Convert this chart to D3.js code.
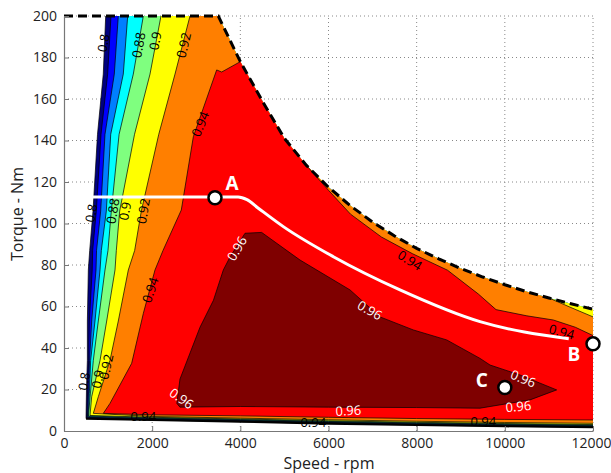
<!DOCTYPE html>
<html><head><meta charset="utf-8">
<script src="https://cdn.jsdelivr.net/npm/d3@7"></script>
<style>
html,body{margin:0;padding:0;background:#fff;}
svg{display:block;font-family:"Open Sans",sans-serif;}
</style></head>
<body><svg id="c" width="611" height="473"></svg>
<script>
// ---------- data ----------
const speedTicks = [0,2000,4000,6000,8000,10000,12000];
const torqueTicks = [0,20,40,60,80,100,120,140,160,180,200];
const levels = [0.80,0.82,0.84,0.86,0.88,0.90,0.92,0.94,0.96];
const levelColors = ["#00007f","#0000ff","#007fff","#00ffff","#7fff7f","#ffff00","#ff7f00","#ff0000","#7f0000"];

// torque-speed envelope [rpm, Nm]
const envelope = [[0,200],[3500,200],[4000,178],[4500,159],[5000,141],[5500,128],[6000,117.5],[6500,108.5],[7000,100.7],[7500,94],[8000,88],[8500,83],[9000,78.3],[9500,74.2],[10000,70.5],[10500,67.1],[11000,64.1],[11500,61.3],[12000,58.7]];

// left (low speed) boundaries of each efficiency level, bottom -> top
const left80 = [[500,6],[510,20],[530,34],[530,53],[552,77.6],[583,87],[658,106],[760,143],[891,172],[946,200]];
const left82 = [[515,6.3],[540,22],[560,34],[575,53],[640,77.6],[650,87],[733,106],[840,143],[990,172],[1066,200]];
const left84 = [[530,6.6],[560,20],[580,34],[628,53],[726,77.6],[738,87],[832,106],[930,143],[1141,172],[1232,200]];
const left86 = [[545,6.9],[575,18],[605,34],[703,53],[817,77.6],[847,87],[960,106],[1060,143],[1345,172],[1445,200]];
const left88 = [[555,7.2],[590,16],[665,34],[778,53],[930,77.6],[998,87],[1073,106],[1250,143],[1572,172],[1800,200]];
const left90 = [[590,7.5],[628,16.5],[817,34],[968,53],[1157,77.6],[1187,87],[1263,106],[1600,143],[1951,172],[2200,200]];
const left92 = [[665,8.5],[778,16.5],[1043,34],[1232,53],[1459,77.6],[1603,87],[1754,106],[2150,143],[2518,172],[2858,200]];
const left94 = [[892,8.5],[1043,13.3],[1535,32.6],[1800,56.7],[2064,77.6],[2246,87],[2661,106.5],[2934,141.8],[3463,174],[3577,173],[4000,178]];

// bottom (low torque) boundaries, left -> right
const bottom80 = [[500,6],[2000,5.3],[4000,4.5],[6000,3.6],[8000,2.9],[10000,2.3],[12000,1.8]];
const bottom82 = [[515,6.3],[2000,5.55],[4000,4.75],[6000,3.85],[8000,3.15],[10000,2.55],[12000,2.05]];
const bottom84 = [[530,6.6],[2000,5.8],[4000,5.0],[6000,4.1],[8000,3.4],[10000,2.8],[12000,2.3]];
const bottom86 = [[545,6.9],[2000,6.05],[4000,5.25],[6000,4.35],[8000,3.65],[10000,3.05],[12000,2.55]];
const bottom88 = [[555,7.2],[2000,6.3],[4000,5.5],[6000,4.6],[8000,3.9],[10000,3.3],[12000,2.8]];
const bottom90 = [[590,7.5],[2000,6.6],[4000,5.8],[6000,4.9],[8000,4.2],[10000,3.6],[12000,3.1]];
const bottom92 = [[665,8.5],[2000,7.0],[4000,6.2],[6000,5.4],[8000,4.7],[10000,4.1],[12000,3.7]];
const bottom94 = [[892,8.5],[2000,7.8],[4000,7.3],[6000,6.6],[8000,6.0],[10000,5.6],[12000,5.3]];

// high-speed boundaries
const orangeYellow = [[11000,64.1],[11500,59.5],[12000,55]];
const redOrange = [[5500,128],[6000,116],[6500,104.5],[7200,93.5],[7900,85.5],[8700,77.5],[9400,66],[9800,58.5],[10500,55.5],[11100,53.5],[11600,50],[12000,46]];

// 0.96 island
const island96 = [[2630,11.5],[2560,13.3],[2630,25],[3085,50],[3390,63],[3614,77.6],[3770,84],[4106,95.3],[4484,95.7],[5354,82.4],[6488,68],[7168,55],[7924,48.7],[8681,43.9],[9437,35],[9664,31.8],[10344,27],[11176,19.8],[10571,15],[9437,11],[8000,11.3],[6000,11.5],[4000,11.8]];

// operating path A -> B
const pathAB = [[630,112.8],[3950,112.8],[4150,111.5],[4400,107.5],[4975,98.5],[6110,84],[7622,68],[9437,52.7],[11450,44.5]];
const pointNames = ["A","B","C"];
const pointSpeed = [3425,12000,10000];
const pointTorque = [112.4,42,21];

// contour labels
const labelText  = ["0.8","0.88","0.9","0.92","0.94","0.8","0.88","0.9","0.92","0.94","0.8","0.9","0.92","0.94","0.94","0.94","0.94","0.94","0.96","0.96","0.96","0.96","0.96","0.96"];
const labelSpeed = [890,1686,2064,2707,3085,613,1100,1376,1792,1951,450,760,950,1800,5655,9512,7849,11290,3917,6941,2670,6450,10420,10306];
const labelTorque= [187,186,188,186,148,105,106,106,106,68,24,25,31,7.3,4.4,5.0,82.4,47.9,88,58.3,15.8,10,25.4,12];
const labelAngle = [-80,-80,-80,-77,-68,-80,-80,-80,-80,-72,-80,-80,-78,0,0,0,32,15,-60,30,35,-3,22,-5];
const labelWhite = [0,0,0,0,0,0,0,0,0,0,0,0,0,0,0,0,0,0,1,1,1,1,1,1];

// ---------- drawing ----------
const svg = d3.select("#c");
const x = d3.scaleLinear().domain([0,12000]).range([64,593]);
const y = d3.scaleLinear().domain([0,200]).range([431,16]);
const line = d3.line().x(d=>x(d[0])).y(d=>y(d[1]));

// grid
const g = svg.append("g");
g.selectAll("line.vx").data(speedTicks.slice(1)).join("line")
  .attr("x1",d=>x(d)).attr("x2",d=>x(d)).attr("y1",y(0)).attr("y2",y(200))
  .attr("stroke","#888").attr("stroke-width",1).attr("stroke-dasharray","1,3");
g.selectAll("line.hy").data(torqueTicks.slice(1)).join("line")
  .attr("y1",d=>y(d)).attr("y2",d=>y(d)).attr("x1",x(0)).attr("x2",x(12000))
  .attr("stroke","#888").attr("stroke-width",1).attr("stroke-dasharray","1,3");

const lefts = [left80,left82,left84,left86,left88,left90,left92,left94];
const bottoms = [bottom80,bottom82,bottom84,bottom86,bottom88,bottom90,bottom92,bottom94];

function uppers(i){
  const top = lefts[i][lefts[i].length-1][0];
  if(i<6) return envelope.filter(p=>p[0]>top);
  if(i===6) return envelope.filter(p=>p[0]>top && p[0]<11000).concat(orangeYellow);
  return envelope.filter(p=>p[0]>top && p[0]<5500).concat(redOrange);
}
const fills = svg.append("g");
lefts.forEach((L,i)=>{
  const poly = L.concat(uppers(i), bottoms[i].slice().reverse());
  fills.append("path").attr("d", line(poly)+"Z").attr("fill", levelColors[i]).attr("stroke","none");
});
fills.append("path").attr("d", line(island96)+"Z").attr("fill", levelColors[8])
  .attr("stroke","#000").attr("stroke-width",0.7);

// contour lines
const cl = svg.append("g").attr("fill","none").attr("stroke","#000").attr("stroke-width",0.7);
lefts.forEach(L=>cl.append("path").attr("d", line(L)));
bottoms.forEach(B=>cl.append("path").attr("d", line(B)));
cl.append("path").attr("d", line(orangeYellow));
cl.append("path").attr("d", line(redOrange));
cl.append("path").attr("d", line(bottom80)).attr("stroke-width",2.2);

// envelope
svg.append("path").attr("d", line(envelope)).attr("fill","none")
  .attr("stroke","#000").attr("stroke-width",3).attr("stroke-dasharray","9,5");

// axes
const ax = svg.append("g").attr("transform",`translate(0,${y(0)})`)
  .call(d3.axisBottom(x).tickValues(speedTicks).tickFormat(d3.format("d")).tickSizeInner(-5).tickSizeOuter(0).tickPadding(7));
const ay = svg.append("g").attr("transform",`translate(${x(0)},0)`)
  .call(d3.axisLeft(y).tickValues(torqueTicks).tickSizeInner(-5).tickSizeOuter(0).tickPadding(7));
[ax,ay].forEach(a=>{
  a.select(".domain").attr("stroke","#777").attr("stroke-width",1.2);
  a.selectAll(".tick line").attr("stroke","#777");
  a.selectAll("text").attr("font-family","Open Sans").attr("font-size",14).attr("fill","#222");
});
ax.selectAll(".tick text").filter(d=>d===12000).attr("dx",-2);

// contour labels
const lab = svg.append("g");
labelText.forEach((t,i)=>{
  lab.append("text").text(t)
    .attr("transform",`translate(${x(labelSpeed[i])},${y(labelTorque[i])}) rotate(${labelAngle[i]})`)
    .attr("text-anchor","middle").attr("dominant-baseline","central")
    .attr("font-size",13).attr("fill", labelWhite[i] ? "#fff" : "#000");
});

// path A-B
svg.append("path").attr("d", d3.line().x(d=>x(d[0])).y(d=>y(d[1])).curve(d3.curveMonotoneX)(pathAB))
  .attr("fill","none").attr("stroke","#fff").attr("stroke-width",3);

// points
const offs = [[17,-15],[-19,10],[-23,-7]];
pointNames.forEach((n,i)=>{
  svg.append("circle").attr("cx",x(pointSpeed[i])).attr("cy",y(pointTorque[i])).attr("r",6.5)
    .attr("fill","#fff").attr("stroke","#000").attr("stroke-width",2.5);
  svg.append("text").text(n).attr("x",x(pointSpeed[i])+offs[i][0]).attr("y",y(pointTorque[i])+offs[i][1])
    .attr("text-anchor","middle").attr("dominant-baseline","central")
    .attr("font-size",19).attr("font-weight","bold").attr("fill","#fff");
});

// titles
svg.append("text").text("Speed - rpm").attr("x",329).attr("y",463).attr("text-anchor","middle")
  .attr("dominant-baseline","central").attr("font-size",16).attr("fill","#222");
svg.append("text").text("Torque - Nm").attr("transform","translate(17,214) rotate(-90)").attr("text-anchor","middle")
  .attr("dominant-baseline","central").attr("font-size",16).attr("fill","#222");
</script></body></html>
